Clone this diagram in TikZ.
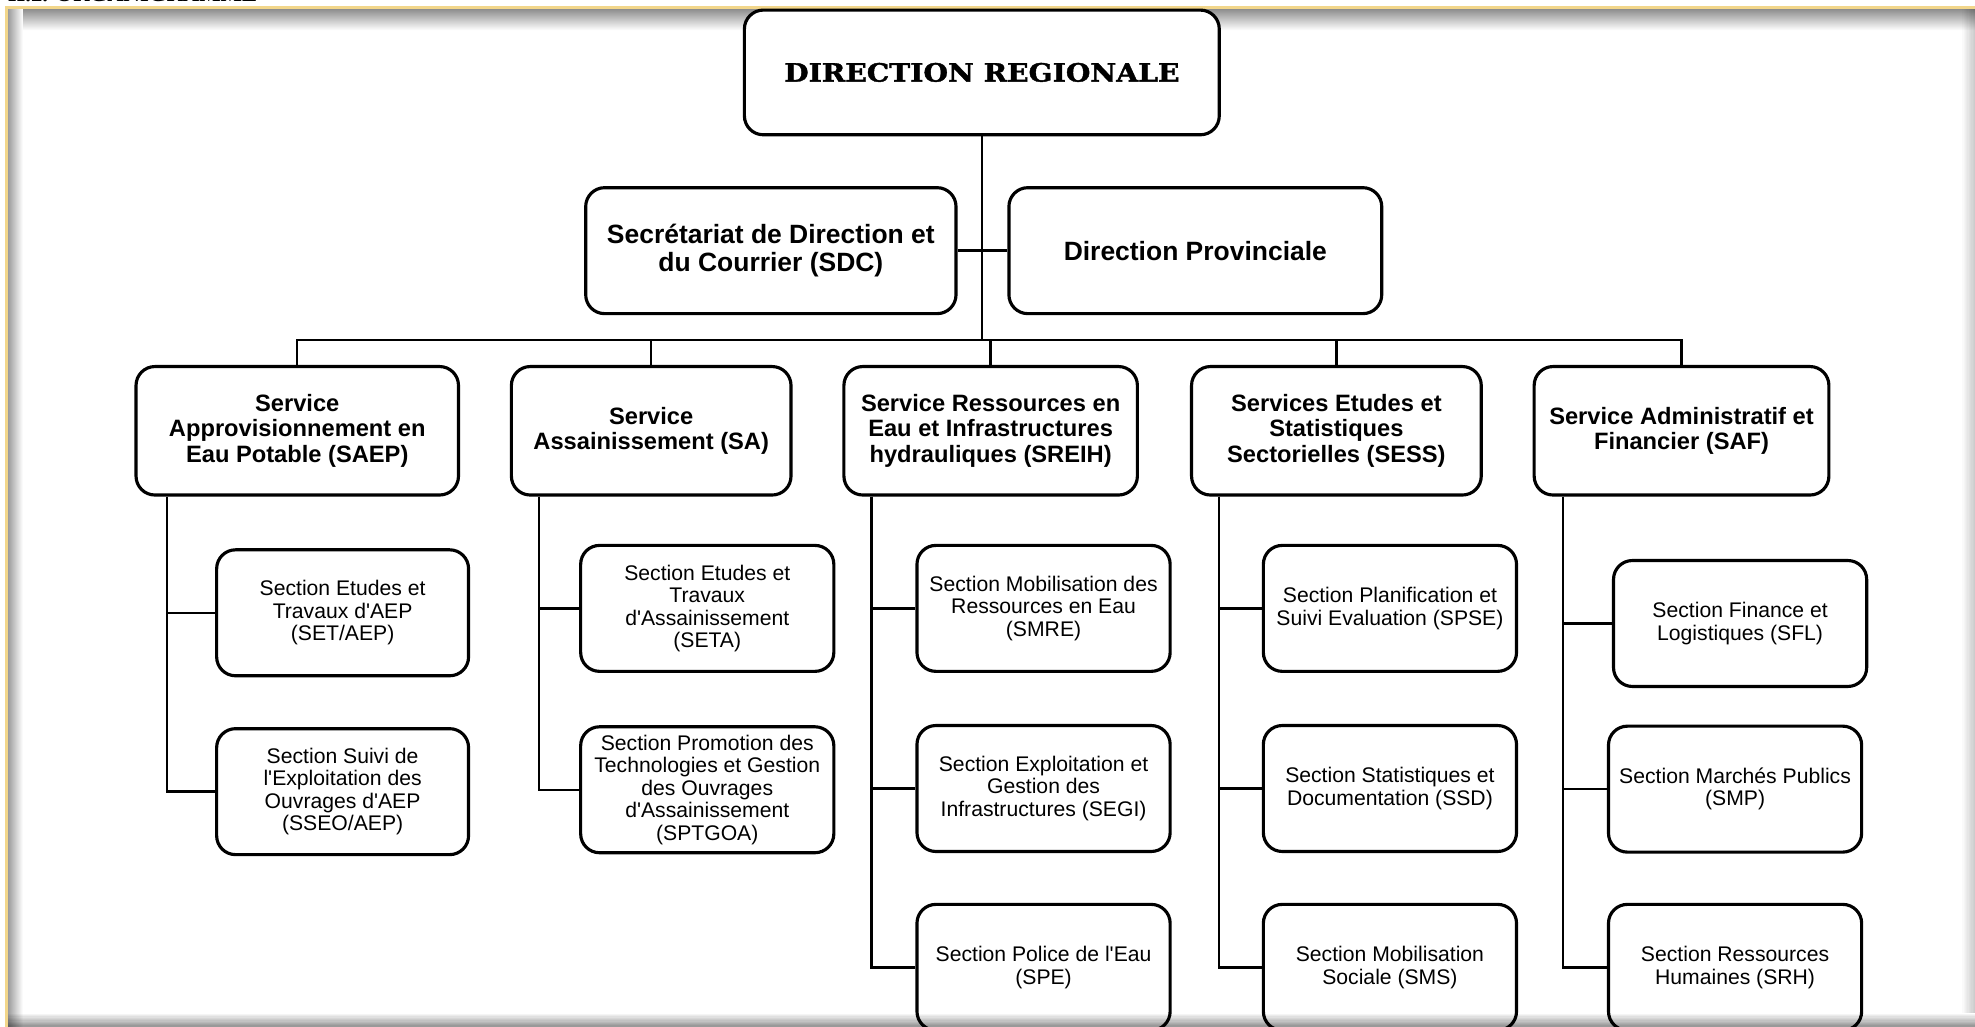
\documentclass[tikz,border=0pt]{standalone}
\usepackage{fontspec}
\setmainfont{Liberation Sans}
\newfontfamily\stencilfont[FakeStretch=1.12,FakeBold=1.6]{DejaVu Serif}
\newfontfamily\headfont{Liberation Serif}
\definecolor{framegold}{RGB}{242,214,138}
\newcommand\ap{\textquotesingle}

\begin{document}
\begin{tikzpicture}[x=1pt,y=1pt,yscale=-1,xscale=1,
  box/.style={draw, fill=white, line width=2.5pt, rounded corners=15pt, align=center, inner sep=0pt},
  dirbox/.style={box, font=\bfseries\fontsize{21}{22.5}\selectfont, minimum height=100pt},
  svcbox/.style={box, font=\bfseries\fontsize{18.8}{20}\selectfont, minimum height=102pt},
  secbox/.style={box, font=\fontsize{16.8}{17.8}\selectfont, minimum width=201pt, minimum height=100pt},
  link/.style={line width=1.9pt}]
\useasboundingbox (0,0) rectangle (1568,815);

% page frame with its shadow
\shade [top color=black!45, bottom color=white] (6,7) rectangle (1568,24);
\shade [left color=black!40, right color=white] (6,7) rectangle (18,815);
\draw [framegold, line width=2.4pt] (5,830) -- (5,6) -- (1580,6);
\node [anchor=base west, inner sep=0pt, font=\headfont\bfseries\fontsize{18}{18}\selectfont] (head) at (6,1.5) {II.2. ORGANIGRAMME};

% Direction
\node [box, minimum width=377pt, minimum height=99pt, font=\stencilfont\bfseries\fontsize{20}{20}\selectfont] (dr) at (779.5,57.5) {DIRECTION REGIONALE};
\node [dirbox, minimum width=294pt] (sdc) at (612,199) {Secrétariat de Direction et\\du Courrier (SDC)};
\node [dirbox, minimum width=296pt] (dp) at (949,199) {Direction Provinciale};
\coordinate (bus) at (779.5,270);

% Services
\node [svcbox, minimum width=256pt] (saep) at (236,342) {Service\\Approvisionnement en\\Eau Potable (SAEP)};
\node [svcbox, minimum width=222pt] (sa) at (517,342) {Service\\Assainissement (SA)};
\node [svcbox, minimum width=233pt] (sreih) at (786.5,342) {Service Ressources en\\Eau et Infrastructures\\hydrauliques (SREIH)};
\node [svcbox, minimum width=230pt] (sess) at (1061,342) {Services Etudes et\\Statistiques\\Sectorielles (SESS)};
\node [svcbox, minimum width=234pt] (saf) at (1335,342) {Service Administratif et\\Financier (SAF)};

% Sections
\node [secbox, minimum width=200pt] (setaep) at (272,486.5) {Section Etudes et\\Travaux d\ap AEP\\(SET/AEP)};
\node [secbox, minimum width=200pt] (sseo) at (272,628.5) {Section Suivi de\\l\ap Exploitation des\\Ouvrages d\ap AEP\\(SSEO/AEP)};
\node [secbox] (seta) at (561.5,483) {Section Etudes et\\Travaux\\d\ap Assainissement\\(SETA)};
\node [secbox] (sptgoa) at (561.5,627) {Section Promotion des\\Technologies et Gestion\\des Ouvrages\\d\ap Assainissement\\(SPTGOA)};
\node [secbox] (smre) at (828.5,483) {Section Mobilisation des\\Ressources en Eau\\(SMRE)};
\node [secbox] (segi) at (828.5,626) {Section Exploitation et\\Gestion des\\Infrastructures (SEGI)};
\node [secbox] (spe) at (828.5,768) {Section Police de l\ap Eau\\(SPE)};
\node [secbox] (spse) at (1103.5,483) {Section Planification et\\Suivi Evaluation (SPSE)};
\node [secbox] (ssd) at (1103.5,626) {Section Statistiques et\\Documentation (SSD)};
\node [secbox] (sms) at (1103.5,768) {Section Mobilisation\\Sociale (SMS)};
\node [secbox] (sfl) at (1381.5,495) {Section Finance et\\Logistiques (SFL)};
\node [secbox] (smp) at (1377.5,626.5) {Section Marchés Publics\\(SMP)};
\node [secbox] (srh) at (1377.5,768) {Section Ressources\\Humaines (SRH)};

% links
\draw [link] (dr.south) -- (bus);
\draw [link] (sdc.east) -- (dp.west);
\draw [link] (saep.north) |- (bus) -| (saf.north);
\foreach \s in {sa,sreih,sess}
  \draw [link] (\s.north) -- (\s.north |- bus);
\foreach \s in {setaep,sseo}
  \draw [link] ([xshift=26pt]saep.south west) |- (\s.west);
\foreach \s in {seta,sptgoa}
  \draw [link] ([xshift=23pt]sa.south west) |- (\s.west);
\foreach \s in {smre,segi,spe}
  \draw [link] ([xshift=23pt]sreih.south west) |- (\s.west);
\foreach \s in {spse,ssd,sms}
  \draw [link] ([xshift=23pt]sess.south west) |- (\s.west);
\foreach \s in {sfl,smp,srh}
  \draw [link] ([xshift=24pt]saf.south west) |- (\s.west);

% shadow along the lower and right edges
\foreach \k [evaluate=\k as \op using 0.04*\k] in {1,...,10} {
  \fill [black, opacity=\op] (6,804+\k) rectangle (1568,805+\k);
  \fill [black, opacity=\op/2] (1557+\k,7) rectangle (1558+\k,804);
}
\end{tikzpicture}
\end{document}
